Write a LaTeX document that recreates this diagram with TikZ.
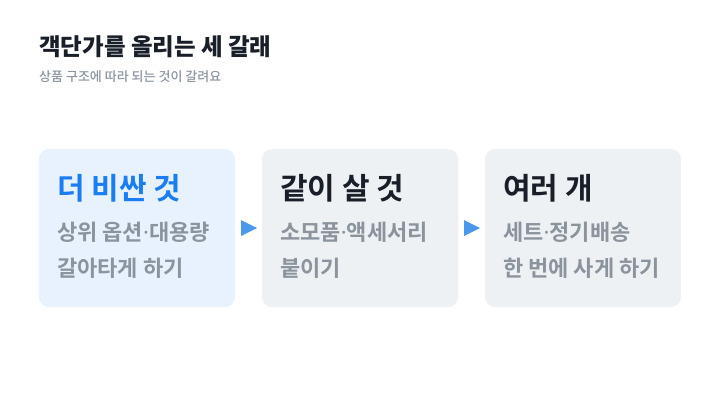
\documentclass[tikz,border=0pt]{standalone}
\usepackage{fontspec}
\setmainfont{Noto Sans CJK KR}
\newfontfamily\krb{Noto Sans CJK KR Bold}
\newfontfamily\krk{Noto Sans CJK KR Black}
\newfontfamily\krm{Noto Sans CJK KR Medium}
\newfontfamily\lat{Noto Sans}
\newcommand{\mdot}{{\lat\bfseries\char"00B7}}
\usetikzlibrary{positioning}
\definecolor{titledark}{HTML}{191F28}
\definecolor{subgray}{HTML}{8B95A1}
\definecolor{bodygray}{HTML}{8B939C}
\definecolor{boxblue}{HTML}{E8F2FE}
\definecolor{boxgray}{HTML}{EEF1F4}
\definecolor{accent}{HTML}{1A7EF2}
\definecolor{arrowblue}{HTML}{4A98EC}
\tikzset{
  card/.style={rounded corners=10pt, draw=none},
  cardtitle/.style={anchor=base west, inner sep=0pt, font=\krb\fontsize{30}{34}\selectfont},
  cardbody/.style={anchor=base west, inner sep=0pt, text=bodygray, font=\krb\fontsize{22}{26}\selectfont},
  tri/.style={fill=arrowblue, draw=none}
}
\begin{document}
\begin{tikzpicture}[x=1pt,y=-1pt]
\useasboundingbox (0,0) rectangle (720,405);
\fill[white] (0,0) rectangle (720,405);
\node[anchor=base west, inner sep=0pt, text=titledark, font=\krk\fontsize{23.5}{28}\selectfont] (title) at (39,55) {객단가를 올리는 세 갈래};
\node[anchor=base west, inner sep=0pt, text=subgray, font=\krm\fontsize{13}{16}\selectfont] (sub) at (39,81) {상품 구조에 따라 되는 것이 갈려요};
% cards
\fill[card, boxblue] (39,149) rectangle (235,307);
\fill[card, boxgray] (262,149) rectangle (458,307);
\fill[card, boxgray] (485,149) rectangle (681,307);
\node[cardtitle, text=accent] (t1) at (57,199) {더 비싼 것};
\node[cardbody] (b1a) at (57,240) {상위 옵션\mdot 대용량};
\node[cardbody] (b1b) at (57,276) {갈아타게 하기};
\node[cardtitle, text=titledark] (t2) at (280,199) {같이 살 것};
\node[cardbody] (b2a) at (280,240) {소모품\mdot 액세서리};
\node[cardbody] (b2b) at (280,276) {붙이기};
\node[cardtitle, text=titledark] (t3) at (503,199) {여러 개};
\node[cardbody] (b3a) at (503,240) {세트\mdot 정기배송};
\node[cardbody] (b3b) at (503,276) {한 번에 사게 하기};
% arrows
\fill[tri] (241,220) -- (257,228) -- (241,236) -- cycle;
\fill[tri] (464,220) -- (480,228) -- (464,236) -- cycle;
\end{tikzpicture}
\end{document}
